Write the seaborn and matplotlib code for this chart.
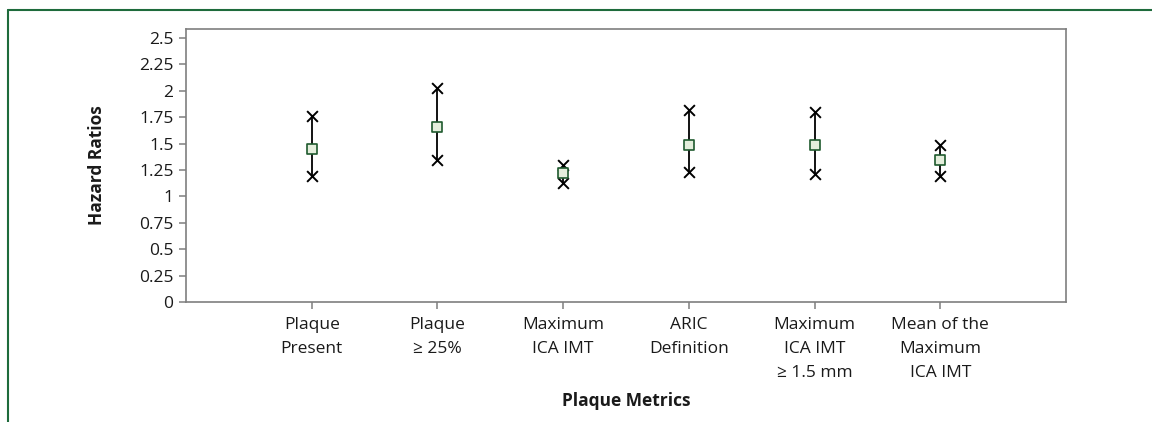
import matplotlib
matplotlib.use("Agg")
import matplotlib.pyplot as plt
import seaborn as sns
import pandas as pd
from matplotlib.lines import Line2D

categories = ["Plaque\nPresent", "Plaque\n\u2265 25%", "Maximum\nICA IMT", "ARIC\nDefinition",
              "Maximum\nICA IMT\n\u2265 1.5 mm", "Mean of the\nMaximum\nICA IMT"]
hr = [1.45, 1.66, 1.22, 1.49, 1.49, 1.34]
upper = [1.76, 2.03, 1.30, 1.82, 1.80, 1.49]
lower = [1.19, 1.34, 1.13, 1.23, 1.21, 1.19]
yticks = [0, 0.25, 0.5, 0.75, 1, 1.25, 1.5, 1.75, 2, 2.25, 2.5]
ytick_labels = ["0", "0.25", "0.5", "0.75", "1", "1.25", "1.5", "1.75", "2", "2.25", "2.5"]

sns.set_style("white")
plt.rcParams['font.family'] = ['Open Sans', 'DejaVu Sans']

df = pd.DataFrame({"metric": categories, "hr": hr, "upper": upper, "lower": lower})

fig = plt.figure(figsize=(11.52, 4.22), dpi=100)
ax = fig.add_axes([186/1152, 1 - 302/422, (1066-186)/1152, (302-29)/422])

pos = list(range(len(categories)))
ax.vlines(pos, df["lower"], df["upper"], color="black", linewidth=1.3, zorder=2)
sns.scatterplot(data=df, x="metric", y="upper", marker="x", color="black", s=60,
                linewidth=1.4, ax=ax, zorder=3)
sns.scatterplot(data=df, x="metric", y="lower", marker="x", color="black", s=60,
                linewidth=1.4, ax=ax, zorder=3)
sns.scatterplot(data=df, x="metric", y="hr", marker="s", color="#e4eedc", edgecolor="#1f5a2e",
                s=50, linewidth=1.2, ax=ax, zorder=4)

fs = 12.5
ax.set_xlim(-1, 6)
ax.set_ylim(0, 2.585)
ax.set_yticks(yticks)
ax.set_yticklabels(ytick_labels, fontsize=fs)
ax.set_xticks(pos)
ax.set_xticklabels(categories, fontsize=fs, linespacing=1.65)
for sp in ax.spines.values():
    sp.set_visible(True)
    sp.set_color("#7f7f7f")
    sp.set_linewidth(1.2)
ax.tick_params(axis="both", direction="out", length=5, width=1.1, color="#7f7f7f",
               labelcolor="#1a1a1a", left=True, bottom=True)
ax.tick_params(axis="x", pad=6)
ax.tick_params(axis="y", pad=4)
ax.set_xlabel("Plaque Metrics", fontsize=fs, fontweight="bold", labelpad=8, color="#1a1a1a")
ax.set_ylabel("Hazard Ratios", fontsize=fs, fontweight="bold", labelpad=24, color="#1a1a1a")

# green frame
fig.add_artist(Line2D([8/1152, 1.0], [1 - 10/422, 1 - 10/422], transform=fig.transFigure,
                      color="#1e6b3c", linewidth=1.5))
fig.add_artist(Line2D([8/1152, 8/1152], [0, 1 - 10/422], transform=fig.transFigure,
                      color="#1e6b3c", linewidth=1.5))

fig.savefig("out.png", dpi=100)
